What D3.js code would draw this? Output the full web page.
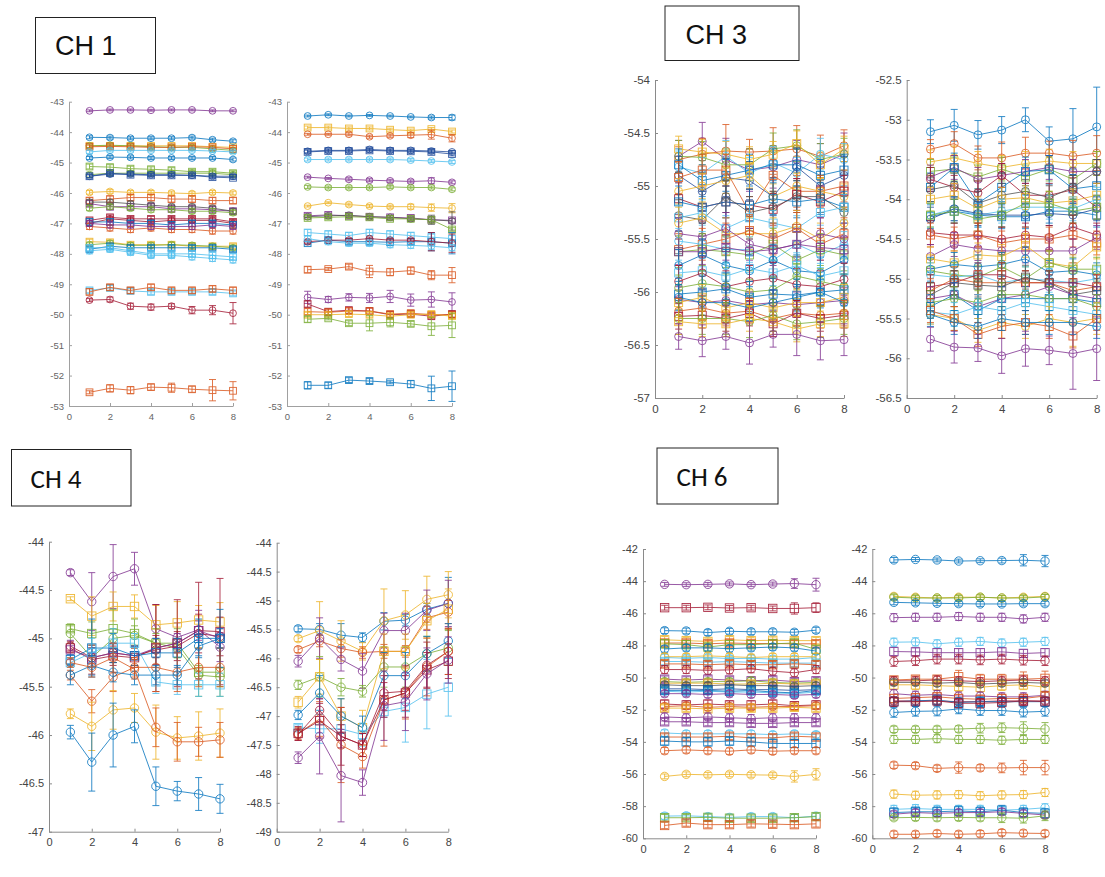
<!DOCTYPE html>
<html>
<head>
<meta charset="utf-8">
<script src="https://cdn.jsdelivr.net/npm/d3@7"></script>
<style>
  body { margin: 0; background: #fff; }
  svg { display: block; font-family: "Liberation Sans", Arial, sans-serif; }
</style>
</head>
<body>
<div id="chart"></div>
<script>
////////////////////////////  Data  ////////////////////////////
const xs = [1, 2, 3, 4, 5, 6, 7, 8];
const xTicks = [0, 2, 4, 6, 8];
const labels = ["CH 1", "CH 3", "CH 4", "CH 6"];

// y tick labels for each panel
const ch1Ticks = [-53, -52, -51, -50, -49, -48, -47, -46, -45, -44, -43];
const ch3aTicks = [-57, -56.5, -56, -55.5, -55, -54.5, -54];
const ch3bTicks = [-56.5, -56, -55.5, -55, -54.5, -54, -53.5, -53, -52.5];
const ch4aTicks = [-47, -46.5, -46, -45.5, -45, -44.5, -44];
const ch4bTicks = [-49, -48.5, -48, -47.5, -47, -46.5, -46, -45.5, -45, -44.5, -44];
const ch6Ticks = [-60, -58, -56, -54, -52, -50, -48, -46, -44, -42];

// CH 1, left
const ch1aValues = [
  [-43.3, -43.27, -43.27, -43.28, -43.27, -43.27, -43.3, -43.3],
  [-44.17, -44.18, -44.2, -44.2, -44.2, -44.18, -44.25, -44.3],
  [-44.45, -44.45, -44.45, -44.45, -44.45, -44.45, -44.48, -44.5],
  [-44.45, -44.43, -44.45, -44.48, -44.5, -44.5, -44.55, -44.6],
  [-44.48, -44.47, -44.48, -44.5, -44.5, -44.48, -44.5, -44.55],
  [-44.65, -44.6, -44.6, -44.6, -44.6, -44.6, -44.62, -44.65],
  [-44.85, -44.82, -44.83, -44.85, -44.85, -44.85, -44.85, -44.9],
  [-45.13, -45.15, -45.2, -45.22, -45.25, -45.3, -45.3, -45.35],
  [-45.4, -45.35, -45.35, -45.35, -45.35, -45.35, -45.35, -45.4],
  [-45.45, -45.38, -45.38, -45.4, -45.4, -45.42, -45.45, -45.45],
  [-45.45, -45.35, -45.4, -45.42, -45.42, -45.42, -45.48, -45.5],
  [-45.98, -45.95, -45.98, -45.98, -46.0, -46.02, -45.98, -46.0],
  [-46.25, -46.2, -46.15, -46.15, -46.2, -46.2, -46.25, -46.25],
  [-46.35, -46.45, -46.45, -46.45, -46.52, -46.52, -46.55, -46.6],
  [-46.3, -46.3, -46.35, -46.4, -46.45, -46.45, -46.5, -46.6],
  [-46.5, -46.45, -46.5, -46.55, -46.55, -46.6, -46.6, -46.65],
  [-46.9, -46.8, -46.85, -46.85, -46.85, -46.85, -46.85, -46.95],
  [-47.0, -46.85, -46.9, -46.95, -46.9, -46.9, -46.9, -47.0],
  [-46.95, -46.95, -47.0, -47.0, -47.05, -47.0, -47.0, -47.05],
  [-47.1, -47.15, -47.2, -47.15, -47.2, -47.2, -47.25, -47.25],
  [-47.0, -47.05, -47.05, -47.1, -47.1, -47.1, -47.05, -47.1],
  [-47.6, -47.62, -47.7, -47.7, -47.7, -47.75, -47.75, -47.75],
  [-47.7, -47.65, -47.72, -47.72, -47.7, -47.72, -47.75, -47.8],
  [-47.85, -47.75, -47.8, -47.8, -47.8, -47.8, -47.8, -47.85],
  [-47.8, -47.8, -47.9, -48.0, -48.0, -48.0, -48.05, -48.1],
  [-47.9, -47.85, -47.95, -48.05, -48.05, -48.1, -48.15, -48.2],
  [-49.2, -49.12, -49.22, -49.25, -49.25, -49.25, -49.25, -49.3],
  [-49.25, -49.1, -49.2, -49.1, -49.2, -49.2, -49.15, -49.2],
  [-49.52, -49.5, -49.72, -49.75, -49.72, -49.85, -49.85, -49.95],
  [-52.55, -52.42, -52.48, -52.38, -52.4, -52.45, -52.48, -52.5]
];
const ch1aErrors = [0.03, 0.05, 0.05, 0.06, 0.05, 0.05, 0.05, 0.08, 0.08, 0.05,
  0.05, 0.06, 0.1, 0.1, 0.08, 0.08, 0.08, 0.08, 0.1, 0.1,
  0.1, 0.08, 0.08, 0.08, 0.1, 0.1, 0.08, 0.1,
  [0.05, 0.08, 0.1, 0.1, 0.08, 0.12, 0.15, 0.35],
  [0.05, 0.12, 0.12, 0.1, 0.15, 0.1, 0.35, 0.3]];
const ch1aColors = "pbygo cbggn nyopk grrbo pygbc ccoro";
const ch1aMarkers = "oosos oosoo sosso ososo ososs ossos";

// CH 1, right
const ch1bValues = [
  [-43.47, -43.43, -43.47, -43.45, -43.47, -43.5, -43.52, -43.52],
  [-43.85, -43.85, -43.88, -43.88, -43.92, -43.95, -43.9, -43.98],
  [-44.07, -44.07, -44.07, -44.15, -44.12, -44.1, -44.08, -44.2],
  [-44.63, -44.6, -44.6, -44.57, -44.6, -44.6, -44.62, -44.65],
  [-44.65, -44.62, -44.62, -44.6, -44.62, -44.63, -44.65, -44.72],
  [-44.9, -44.9, -44.9, -44.9, -44.9, -44.92, -44.95, -44.98],
  [-45.48, -45.52, -45.55, -45.58, -45.6, -45.62, -45.6, -45.65],
  [-45.8, -45.82, -45.82, -45.82, -45.8, -45.82, -45.82, -45.88],
  [-46.43, -46.32, -46.38, -46.43, -46.45, -46.45, -46.48, -46.5],
  [-46.75, -46.72, -46.75, -46.78, -46.8, -46.82, -46.88, -46.9],
  [-46.78, -46.75, -46.73, -46.78, -46.8, -46.85, -46.88, -46.92],
  [-46.82, -46.8, -46.78, -46.8, -46.85, -46.85, -46.88, -47.2],
  [-47.3, -47.35, -47.4, -47.3, -47.35, -47.4, -47.45, -47.5],
  [-47.65, -47.55, -47.6, -47.6, -47.62, -47.6, -47.6, -47.65],
  [-47.6, -47.55, -47.55, -47.5, -47.55, -47.55, -47.6, -47.65],
  [-47.5, -47.6, -47.65, -47.65, -47.7, -47.72, -47.75, -47.8],
  [-48.52, -48.5, -48.42, -48.58, -48.6, -48.55, -48.7, -48.7],
  [-49.43, -49.5, -49.43, -49.45, -49.4, -49.52, -49.5, -49.58],
  [-49.65, -49.9, -49.85, -49.88, -50.0, -49.98, -50.05, -49.98],
  [-49.9, -49.92, -49.88, -49.88, -49.98, -49.95, -50.0, -50.0],
  [-50.0, -50.0, -49.98, -50.0, -50.05, -50.0, -49.98, -50.05],
  [-50.15, -50.12, -50.28, -50.28, -50.25, -50.3, -50.38, -50.35],
  [-52.32, -52.32, -52.15, -52.18, -52.22, -52.28, -52.42, -52.35]
];
const ch1bErrors = [
  [0.03, 0.03, 0.03, 0.03, 0.03, 0.03, 0.05, 0.08], 0.05,
  [0.03, 0.03, 0.05, 0.05, 0.05, 0.08, 0.15, 0.12], 0.05, 0.06, 0.05,
  [0.03, 0.03, 0.05, 0.05, 0.05, 0.05, 0.1, 0.05], 0.05,
  [0.03, 0.03, 0.05, 0.05, 0.05, 0.08, 0.12, 0.15], 0.06,
  [0.03, 0.05, 0.05, 0.05, 0.05, 0.05, 0.15, 0.3], 0.06, 0.1,
  [0.05, 0.05, 0.1, 0.1, 0.1, 0.1, 0.3, 0.35],
  [0.05, 0.05, 0.05, 0.05, 0.05, 0.05, 0.3, 0.3], 0.1,
  [0.1, 0.05, 0.08, 0.2, 0.12, 0.12, 0.15, 0.25],
  [0.2, 0.1, 0.12, 0.15, 0.2, 0.2, 0.25, 0.3], 0.1, 0.1, 0.08,
  [0.1, 0.05, 0.08, 0.25, 0.15, 0.08, 0.3, 0.4],
  [0.12, 0.1, 0.08, 0.08, 0.05, 0.12, 0.4, 0.5]];
const ch1bColors = "byonn cpgyp kgcbr coproy gb";
const ch1bMarkers = "osoos oooos ossso ososs sss";

// CH 3, left
const ch3aValues = [
  [-54.72, -54.58, -54.75, -54.85, -54.82, -54.75, -54.8, -54.7],
  [-54.75, -54.7, -54.67, -54.68, -54.67, -54.65, -54.72, -54.62],
  [-54.72, -54.73, -54.8, -54.8, -54.65, -54.62, -54.75, -54.7],
  [-54.65, -54.68, -54.7, -54.75, -54.7, -54.6, -54.8, -54.65],
  [-54.82, -54.88, -54.72, -54.88, -54.78, -54.88, -54.7, -54.75],
  [-54.8, -54.95, -54.9, -54.85, -54.8, -54.8, -54.9, -54.85],
  [-54.9, -55.05, -54.92, -54.95, -55.1, -54.82, -55.0, -54.9],
  [-54.92, -54.85, -54.85, -55.25, -54.9, -55.05, -55.05, -55.0],
  [-55.05, -55.0, -54.95, -54.9, -55.1, -55.0, -55.05, -55.1],
  [-55.12, -55.2, -55.15, -55.18, -55.22, -55.08, -55.15, -55.05],
  [-55.15, -55.2, -55.15, -55.18, -55.12, -55.15, -55.12, -55.2],
  [-55.28, -55.32, -55.1, -55.25, -55.2, -55.1, -55.1, -55.25],
  [-55.3, -55.25, -55.4, -55.3, -55.35, -55.4, -55.25, -55.2],
  [-55.35, -55.3, -55.45, -55.45, -55.45, -55.38, -55.5, -55.35],
  [-55.45, -55.48, -55.4, -55.55, -55.6, -55.55, -55.45, -55.5],
  [-55.6, -55.55, -55.5, -55.42, -55.5, -55.4, -55.55, -55.45],
  [-55.52, -55.55, -55.6, -55.6, -55.7, -55.55, -55.65, -55.55],
  [-55.62, -55.6, -55.62, -55.65, -55.55, -55.7, -55.6, -55.65],
  [-55.62, -55.62, -55.58, -55.62, -55.6, -55.55, -55.58, -55.6],
  [-55.75, -55.65, -55.75, -55.8, -55.7, -55.8, -55.82, -55.7],
  [-55.82, -55.8, -55.85, -55.78, -55.82, -55.75, -55.85, -55.8],
  [-55.9, -55.82, -55.95, -55.9, -55.87, -55.93, -55.95, -55.88],
  [-55.96, -55.92, -55.95, -56.0, -55.98, -55.85, -55.9, -55.95],
  [-56.02, -56.0, -55.97, -56.05, -56.02, -56.03, -56.0, -55.98],
  [-56.07, -56.1, -56.08, -56.12, -56.1, -56.12, -56.1, -56.08],
  [-56.1, -56.05, -56.15, -56.1, -56.15, -56.1, -56.1, -56.05],
  [-56.05, -56.1, -56.1, -56.15, -56.1, -56.05, -56.0, -56.1],
  [-56.18, -56.15, -56.2, -56.18, -56.25, -56.2, -56.22, -56.2],
  [-56.23, -56.22, -56.25, -56.2, -56.3, -56.2, -56.25, -56.22],
  [-56.25, -56.25, -56.25, -56.28, -56.22, -56.3, -56.28, -56.25],
  [-56.28, -56.3, -56.3, -56.25, -56.28, -56.35, -56.3, -56.3],
  [-56.42, -56.46, -56.42, -56.48, -56.4, -56.4, -56.46, -56.45]
];
const ch3aErrors = [
  [0.15, 0.18, 0.2, 0.2, 0.2, 0.18, 0.2, 0.2], [0.12, 0.15, 0.25, 0.12, 0.22, 0.22, 0.2, 0.15],
  0.15, 0.12, 0.15, 0.15, 0.18, 0.15, 0.12, 0.15, 0.15, 0.15, 0.12, 0.15, 0.15, 0.15,
  0.12, 0.15, 0.12, 0.15, 0.12, 0.15, 0.12, 0.15, 0.12, 0.12, 0.12, 0.12, 0.12, 0.15, 0.12,
  [0.12, 0.15, 0.12, 0.2, 0.12, 0.2, 0.18, 0.15]];
const ch3aColors = "pogyc bnoyr bkcyp ocgpb crgbp yborg yp";
const ch3aMarkers = "oooso sosos sosoo sosso sooso sooso so";

// CH 3, right
const ch3bValues = [
  [-53.15, -53.07, -53.19, -53.13, -53.0, -53.27, -53.24, -53.09],
  [-53.37, -53.3, -53.48, -53.48, -53.42, -53.42, -53.46, -53.42],
  [-53.53, -53.48, -53.55, -53.6, -53.55, -53.52, -53.55, -53.55],
  [-53.65, -53.62, -53.72, -53.62, -53.72, -53.62, -53.75, -53.55],
  [-53.72, -53.6, -53.75, -53.7, -53.65, -53.6, -53.65, -53.65],
  [-53.85, -53.6, -54.05, -53.85, -53.65, -53.63, -53.87, -53.83],
  [-53.75, -53.85, -53.92, -53.7, -53.95, -53.95, -53.88, -54.1],
  [-53.88, -53.82, -54.05, -53.95, -53.9, -53.98, -53.85, -53.65],
  [-54.0, -53.95, -54.12, -54.0, -53.98, -54.05, -54.02, -53.95],
  [-54.22, -54.15, -54.2, -54.22, -54.22, -54.15, -54.15, -54.2],
  [-54.2, -54.12, -54.2, -54.15, -54.1, -54.1, -54.12, -54.0],
  [-54.25, -54.12, -54.18, -54.2, -54.2, -54.18, -54.2, -54.12],
  [-54.2, -54.15, -54.25, -54.2, -54.05, -54.05, -54.15, -54.1],
  [-54.42, -54.45, -54.45, -54.5, -54.45, -54.48, -54.35, -54.45],
  [-54.45, -54.5, -54.45, -54.55, -54.5, -54.5, -54.45, -54.55],
  [-54.72, -54.57, -54.62, -54.65, -54.65, -54.65, -54.65, -54.48],
  [-54.75, -54.8, -54.7, -54.72, -54.58, -54.8, -54.85, -54.6],
  [-54.88, -54.82, -54.85, -54.82, -54.75, -54.92, -54.9, -54.95],
  [-54.9, -54.95, -54.98, -54.85, -55.0, -54.8, -54.88, -54.88],
  [-54.95, -54.98, -54.95, -55.05, -55.0, -55.02, -55.05, -55.0],
  [-55.1, -55.05, -54.95, -54.95, -55.05, -55.05, -55.05, -55.1],
  [-55.15, -55.0, -55.05, -55.05, -55.05, -55.05, -55.15, -55.1],
  [-55.2, -55.05, -55.08, -55.1, -54.98, -55.05, -55.2, -55.15],
  [-55.25, -55.2, -55.35, -55.25, -55.2, -55.1, -55.2, -55.25],
  [-55.35, -55.2, -55.4, -55.25, -55.25, -55.25, -55.25, -55.3],
  [-55.3, -55.25, -55.3, -55.2, -55.2, -55.25, -55.25, -55.35],
  [-55.42, -55.45, -55.35, -55.4, -55.3, -55.35, -55.4, -55.45],
  [-55.45, -55.5, -55.65, -55.55, -55.6, -55.5, -55.55, -55.5],
  [-55.4, -55.5, -55.7, -55.6, -55.55, -55.6, -55.72, -55.5],
  [-55.45, -55.55, -55.6, -55.5, -55.55, -55.55, -55.55, -55.6],
  [-55.76, -55.86, -55.87, -55.97, -55.88, -55.9, -55.94, -55.88]
];
const ch3bErrors = [
  [0.15, 0.2, 0.18, 0.17, 0.15, 0.18, 0.38, 0.5], [0.12, 0.15, 0.15, 0.2, 0.2, 0.15, 0.2, 0.22],
  0.15, 0.15, 0.15, 0.18, 0.15, 0.15, 0.15, 0.15, 0.15, 0.15, 0.15, 0.15, 0.15,
  0.15, 0.15, 0.15, 0.15, 0.15, 0.15, 0.15, 0.15, 0.15, 0.15, 0.15, 0.15,
  [0.12, 0.15, 0.15, 0.2, 0.15, 0.15, 0.3, 0.2], 0.15, 0.15,
  [0.15, 0.2, 0.17, 0.22, 0.22, 0.18, 0.45, 0.4]];
const ch3bColors = "boygp brkyb cngro pybgc rokpb gcyob p";
const ch3bMarkers = "oooso sooss oosos ososo sosos ososo o";

// CH 4, left
const ch4aValues = [
  [-44.32, -44.62, -44.36, -44.28, -44.9, -44.99, -44.91, -45.09],
  [-44.59, -44.77, -44.67, -44.67, -44.86, -44.84, -44.81, -44.83],
  [-44.9, -44.95, -44.9, -44.95, -45.05, -45.05, -45.35, -45.35],
  [-44.95, -45.2, -45.0, -44.97, -45.05, -45.1, -45.38, -45.4],
  [-45.1, -45.22, -45.18, -45.2, -45.1, -45.05, -44.92, -44.93],
  [-45.08, -45.2, -45.15, -45.18, -45.12, -45.08, -44.95, -44.98],
  [-45.12, -45.2, -45.15, -45.18, -45.1, -45.05, -44.92, -45.0],
  [-45.22, -45.1, -45.1, -45.18, -45.15, -45.15, -45.0, -45.0],
  [-45.25, -45.15, -45.05, -45.05, -45.45, -45.48, -45.48, -45.48],
  [-45.38, -45.65, -45.4, -45.3, -45.3, -45.35, -45.3, -45.3],
  [-45.38, -45.28, -45.35, -45.38, -45.38, -45.38, -45.08, -45.0],
  [-45.78, -45.91, -45.74, -45.72, -45.97, -46.03, -46.01, -45.98],
  [-45.25, -45.3, -45.2, -45.32, -45.92, -46.07, -46.07, -46.05],
  [-45.97, -46.28, -46.0, -45.91, -46.53, -46.58, -46.61, -46.66]
];
const ch4aErrors = [
  [0.03, 0.3, 0.33, 0.17, 0.25, 0.15, 0.2, 0.15],
  [0.02, 0.2, 0.15, 0.12, 0.2, 0.22, 0.15, 0.2],
  [0.03, 0.12, 0.2, 0.15, 0.15, 0.15, 0.25, 0.25], 0.1,
  [0.05, 0.15, 0.1, 0.1, 0.45, 0.45, 0.5, 0.55],
  [0.05, 0.1, 0.1, 0.1, 0.15, 0.15, 0.2, 0.2], 0.1,
  [0.05, 0.3, 0.15, 0.1, 0.15, 0.15, 0.2, 0.3],
  [0.05, 0.15, 0.15, 0.1, 0.12, 0.1, 0.12, 0.12],
  [0.05, 0.12, 0.15, 0.1, 0.25, 0.2, 0.2, 0.2], 0.1,
  [0.05, 0.25, 0.2, 0.15, 0.28, 0.22, 0.25, 0.25],
  [0.05, 0.1, 0.15, 0.1, 0.2, 0.2, 0.15, 0.18],
  [0.07, 0.3, 0.33, 0.17, 0.2, 0.1, 0.17, 0.15]];
const ch4aColors = "pyggr rpbco byob";
const ch4aMarkers = "ossos ossso oooo";

// CH 4, right
const ch4bValues = [
  [-45.49, -45.5, -45.6, -45.64, -45.36, -45.34, -45.15, -45.05],
  [-45.66, -45.52, -45.7, -45.88, -45.35, -45.25, -44.98, -44.9],
  [-45.85, -45.7, -45.83, -45.9, -45.88, -45.88, -45.3, -45.2],
  [-46.05, -45.65, -46.02, -46.22, -45.52, -45.52, -45.17, -45.05],
  [-46.46, -46.32, -46.5, -46.57, -46.15, -46.15, -45.92, -45.82],
  [-46.76, -46.32, -47.0, -47.2, -45.88, -45.88, -45.35, -45.15],
  [-46.98, -46.6, -47.0, -47.2, -46.3, -46.3, -45.92, -45.7],
  [-47.2, -47.22, -47.22, -47.32, -46.92, -46.85, -46.62, -46.5],
  [-47.32, -46.9, -47.35, -47.5, -46.6, -46.57, -46.12, -45.88],
  [-47.3, -47.05, -47.5, -47.7, -46.72, -46.6, -46.15, -45.88],
  [-47.3, -47.08, -47.35, -47.5, -46.72, -46.6, -46.2, -46.05],
  [-47.72, -47.35, -48.03, -48.15, -46.82, -46.75, -46.27, -46.03]
];
const ch4bErrors = [
  [0.05, 0.1, 0.2, 0.08, 0.15, 0.1, 0.1, 0.45],
  [0.05, 0.5, 0.35, 0.15, 0.55, 0.42, 0.4, 0.4],
  [0.05, 0.1, 0.15, 0.1, 0.12, 0.1, 0.2, 0.2],
  [0.1, 0.35, 0.2, 0.3, 0.3, 0.3, 0.35, 0.4],
  [0.08, 0.35, 0.15, 0.1, 0.35, 0.35, 0.3, 0.3],
  [0.1, 0.3, 0.3, 0.3, 0.3, 0.3, 0.3, 0.35],
  [0.08, 0.3, 0.3, 0.2, 0.4, 0.4, 0.3, 0.3],
  [0.05, 0.25, 0.2, 0.2, 0.1, 0.6, 0.6, 0.5],
  [0.1, 0.2, 0.5, 0.2, 0.3, 0.45, 0.4, 0.4],
  [0.1, 0.3, 0.65, 0.2, 0.8, 0.45, 0.5, 0.4],
  [0.12, 0.3, 0.2, 0.2, 0.3, 0.3, 0.3, 0.3],
  [0.1, 0.65, 0.8, 0.22, 0.6, 0.5, 0.45, 0.4]];
const ch4bColors = "byopg ybcro rp";
const ch4bMarkers = "ooooo sosoo so";

// CH 6, left
const ch6aValues = [
  [-44.2, -44.22, -44.2, -44.17, -44.22, -44.18, -44.15, -44.22],
  [-45.65, -45.65, -45.63, -45.67, -45.65, -45.7, -45.7, -45.65],
  [-47.08, -47.1, -47.2, -47.12, -47.15, -47.15, -47.18, -47.05],
  [-47.65, -47.7, -47.75, -47.65, -47.7, -47.68, -47.7, -47.7],
  [-47.85, -47.85, -47.9, -47.85, -47.88, -47.88, -47.9, -47.9],
  [-47.9, -47.95, -48.1, -47.95, -47.95, -47.9, -47.85, -48.25],
  [-48.22, -48.15, -48.15, -48.2, -48.15, -48.1, -48.15, -48.35],
  [-48.75, -48.8, -48.75, -48.82, -48.8, -48.85, -48.85, -48.75],
  [-48.7, -48.7, -48.65, -48.7, -48.75, -48.7, -48.7, -48.7],
  [-49.0, -49.0, -49.05, -49.0, -49.05, -49.1, -49.1, -49.1],
  [-49.15, -49.15, -49.2, -49.15, -49.2, -49.2, -49.15, -49.2],
  [-49.5, -49.5, -49.55, -49.52, -49.45, -49.6, -49.7, -49.5],
  [-50.1, -50.15, -50.1, -50.15, -50.2, -50.15, -50.25, -50.2],
  [-50.25, -50.3, -50.25, -50.25, -50.2, -50.3, -50.35, -50.3],
  [-50.35, -50.35, -50.35, -50.4, -50.4, -50.35, -50.4, -50.4],
  [-50.45, -50.5, -50.5, -50.45, -50.5, -50.5, -50.55, -50.5],
  [-50.7, -50.7, -50.75, -50.7, -50.75, -50.75, -50.8, -50.75],
  [-50.85, -50.9, -50.85, -50.9, -50.9, -50.95, -51.0, -50.9],
  [-50.8, -50.8, -50.8, -50.85, -50.8, -50.9, -50.95, -50.8],
  [-51.0, -51.0, -51.05, -51.0, -51.05, -51.05, -51.1, -51.05],
  [-51.65, -51.7, -51.65, -51.7, -51.7, -51.65, -51.75, -51.7],
  [-51.8, -51.75, -51.85, -51.8, -51.85, -51.8, -51.8, -51.75],
  [-51.9, -51.9, -51.95, -51.9, -51.9, -51.9, -51.85, -51.9],
  [-52.45, -52.5, -52.45, -52.5, -52.55, -52.5, -52.5, -52.5],
  [-52.75, -52.75, -52.8, -52.8, -52.85, -52.85, -52.8, -52.8],
  [-53.45, -53.5, -53.5, -53.5, -53.5, -53.55, -53.5, -53.55],
  [-53.7, -53.7, -53.7, -53.65, -53.75, -53.75, -53.65, -53.7],
  [-53.95, -54.0, -54.0, -53.95, -54.0, -54.1, -54.1, -54.1],
  [-54.55, -54.5, -54.55, -54.58, -54.5, -54.58, -54.55, -54.55],
  [-56.15, -56.02, -56.05, -56.02, -56.05, -56.07, -56.15, -56.02],
  [-58.62, -58.6, -58.65, -58.7, -58.65, -58.65, -58.72, -58.62],
  [-58.72, -58.72, -58.7, -58.75, -58.75, -58.75, -58.72, -58.65],
  [-59.2, -59.05, -59.15, -59.15, -59.1, -59.12, -59.15, -59.1]
];
const ch6aErrors = [
  [0.12, 0.12, 0.12, 0.12, 0.12, 0.12, 0.3, 0.4], [0.15, 0.15, 0.15, 0.15, 0.15, 0.15, 0.35, 0.3],
  0.18, 0.2, 0.2, 0.25, 0.2, 0.2, 0.2, 0.2, 0.2, 0.25, 0.2, 0.2, 0.2, 0.2, 0.2,
  0.2, 0.2, 0.2, 0.25, 0.2, 0.2, 0.25, 0.2, 0.2, 0.2, 0.25, 0.2,
  [0.15, 0.15, 0.15, 0.15, 0.15, 0.15, 0.35, 0.35], 0.2, 0.2, 0.2];
const ch6aColors = "prbyo gbcyc orpgy kncbp roypp coboy cgo";
const ch6aMarkers = "ososs sooos sosos ososo sosos ossoo oss";

// CH 6, right
const ch6bValues = [
  [-42.68, -42.65, -42.68, -42.75, -42.73, -42.72, -42.7, -42.75],
  [-44.95, -45.0, -45.05, -45.0, -45.0, -45.05, -45.0, -44.95],
  [-45.0, -45.05, -45.05, -45.05, -45.0, -45.05, -45.05, -44.98],
  [-45.32, -45.35, -45.38, -45.4, -45.42, -45.42, -45.4, -45.4],
  [-46.27, -46.25, -46.25, -46.2, -46.25, -46.25, -46.35, -46.25],
  [-47.8, -47.78, -47.9, -47.8, -47.75, -47.85, -47.8, -47.75],
  [-48.38, -48.4, -48.45, -48.45, -48.45, -48.4, -48.5, -48.45],
  [-49.0, -48.95, -48.85, -48.85, -48.9, -48.85, -48.92, -48.95],
  [-50.15, -50.1, -50.1, -49.95, -50.1, -50.1, -50.1, -50.05],
  [-50.2, -50.2, -50.15, -50.2, -50.25, -50.2, -50.15, -50.2],
  [-50.45, -50.45, -50.5, -50.55, -50.6, -50.5, -50.45, -50.6],
  [-50.3, -50.3, -50.35, -50.3, -50.4, -50.35, -50.3, -50.35],
  [-51.0, -51.1, -51.05, -51.15, -51.15, -51.2, -51.2, -51.1],
  [-51.3, -51.25, -51.2, -51.3, -51.35, -51.3, -51.3, -51.15],
  [-51.45, -51.45, -51.45, -51.5, -51.5, -51.45, -51.45, -51.45],
  [-51.5, -51.45, -51.4, -51.55, -51.5, -51.5, -51.5, -51.5],
  [-51.5, -51.5, -51.45, -51.6, -51.6, -51.55, -51.45, -51.5],
  [-52.17, -52.1, -52.08, -51.95, -52.05, -52.05, -52.15, -52.1],
  [-53.22, -53.22, -53.22, -53.2, -53.15, -53.12, -53.15, -53.2],
  [-53.85, -53.85, -53.8, -53.85, -53.85, -53.9, -53.85, -53.85],
  [-55.45, -55.48, -55.65, -55.6, -55.62, -55.62, -55.6, -55.6],
  [-57.25, -57.32, -57.3, -57.28, -57.35, -57.3, -57.28, -57.15],
  [-58.2, -58.15, -58.2, -58.2, -58.2, -58.25, -58.2, -58.1],
  [-58.4, -58.35, -58.35, -58.3, -58.35, -58.25, -58.4, -58.45],
  [-58.5, -58.4, -58.45, -58.4, -58.4, -58.35, -58.45, -58.55],
  [-58.72, -58.7, -58.72, -58.7, -58.72, -58.72, -58.75, -58.6],
  [-59.75, -59.75, -59.7, -59.75, -59.72, -59.65, -59.68, -59.7]
];
const ch6bErrors = [
  [0.15, 0.12, 0.12, 0.12, 0.12, 0.15, 0.35, 0.35], 0.15, 0.15, 0.15, 0.25, 0.25, 0.25, 0.3,
  [0.2, 0.2, 0.2, 0.4, 0.3, 0.3, 0.45, 0.45], 0.25, 0.3, 0.2, 0.25, 0.25, 0.2, 0.3, 0.3,
  0.3, [0.2, 0.2, 0.2, 0.2, 0.3, 0.3, 0.4, 0.4], 0.25, [0.2, 0.2, 0.2, 0.35, 0.2, 0.3, 0.45, 0.45],
  0.25, 0.25, 0.3, 0.2, [0.15, 0.2, 0.2, 0.2, 0.2, 0.3, 0.3, 0.3], 0.2];
const ch6bColors = "bygbp cpror ykpor brbgg oycbp go";
const ch6bMarkers = "ooooo ososo sooso ssooo oooso oo";

////////////////////////////  Init  ////////////////////////////
const width = 1105;
const height = 877;
const svg = d3.select("#chart").append("svg")
  .attr("width", width).attr("height", height);

const colorOrder = {
  b: "#0072BD", o: "#D95319", y: "#EDB120", p: "#7E2F8E", g: "#77AC30",
  c: "#4DBEEE", r: "#A2142F", n: "#1F4A9A", k: "#505050"
};
const cycle = "boypgcr";
const codes = (s) => s.replace(/\s/g, "");

// panel layout (pixels)
const panels = [
  { vals: ch1aValues, errs: ch1aErrors, cols: ch1aColors, marks: ch1aMarkers, domain: [-53, -43], ticks: ch1Ticks,
    xr: [69, 233], yr: [406, 101.7], fs: 9.5, r: 3.4, axis: "#a0a0a0", text: "#666" },
  { vals: ch1bValues, errs: ch1bErrors, cols: ch1bColors, marks: ch1bMarkers, domain: [-53, -43], ticks: ch1Ticks,
    xr: [287, 452], yr: [406, 101.7], fs: 9.5, r: 3.4, axis: "#a0a0a0", text: "#666" },
  { vals: ch3aValues, errs: ch3aErrors, cols: ch3aColors, marks: ch3aMarkers, domain: [-57, -54], ticks: ch3aTicks,
    xr: [655, 844], yr: [398, 80], fs: 11.5, r: 4, axis: "#8a8a8a", text: "#444" },
  { vals: ch3bValues, errs: ch3bErrors, cols: ch3bColors, marks: ch3bMarkers, domain: [-56.5, -52.5], ticks: ch3bTicks,
    xr: [906.7, 1096.7], yr: [398, 80], fs: 11.5, r: 4, axis: "#8a8a8a", text: "#444" },
  { vals: ch4aValues, errs: ch4aErrors, cols: ch4aColors, marks: ch4aMarkers, domain: [-47, -44], ticks: ch4aTicks,
    xr: [49, 220], yr: [831.7, 541.7], fs: 11, r: 4.2, axis: "#8a8a8a", text: "#444" },
  { vals: ch4bValues, errs: ch4bErrors, cols: ch4bColors, marks: ch4bMarkers, domain: [-49, -44], ticks: ch4bTicks,
    xr: [276.7, 448.3], yr: [831.7, 542.7], fs: 11, r: 4.2, axis: "#8a8a8a", text: "#444" },
  { vals: ch6aValues, errs: ch6aErrors, cols: ch6aColors, marks: ch6aMarkers, domain: [-60, -42], ticks: ch6Ticks,
    xr: [643, 816], yr: [838.3, 549], fs: 11, r: 4.2, axis: "#8a8a8a", text: "#444" },
  { vals: ch6bValues, errs: ch6bErrors, cols: ch6bColors, marks: ch6bMarkers, domain: [-60, -42], ticks: ch6Ticks,
    xr: [872.3, 1045], yr: [838.3, 549], fs: 11, r: 4.2, axis: "#8a8a8a", text: "#444" }
];

// label boxes
const labelBoxes = [
  { x: 35, y: 17, w: 120, h: 56, tx: 55, ty: 55, font: "'Liberation Sans', Arial, sans-serif", fs: 27 },
  { x: 664.5, y: 5.5, w: 134, h: 54.5, tx: 685.5, ty: 44, font: "'Liberation Sans', Arial, sans-serif", fs: 27 },
  { x: 11, y: 449, w: 119.5, h: 56.5, tx: 30.5, ty: 487.5, font: "Carlito, Lato, 'Open Sans', sans-serif", fs: 27 },
  { x: 656.5, y: 447.5, w: 121, h: 56, tx: 676.5, ty: 486, font: "Carlito, Lato, 'Open Sans', sans-serif", fs: 27 }
];

labelBoxes.forEach((b, i) => {
  svg.append("rect")
    .attr("x", b.x + 0.5).attr("y", b.y + 0.5)
    .attr("width", b.w).attr("height", b.h)
    .attr("fill", "#fff").attr("stroke", "#222").attr("stroke-width", 1);
  svg.append("text")
    .attr("x", b.tx).attr("y", b.ty)
    .style("font-family", b.font).style("font-size", b.fs + "px")
    .attr("fill", "#111")
    .text(labels[i]);
});

////////////////////////////  Panels  ////////////////////////////
function drawPanel(p) {
  const xScale = d3.scaleLinear().domain([0, 8]).range(p.xr);
  const yScale = d3.scaleLinear().domain(p.domain).range(p.yr);
  const g = svg.append("g");

  const xAxis = d3.axisBottom(xScale).tickValues(xTicks).tickSize(-3).tickSizeOuter(0).tickPadding(7)
    .tickFormat((d) => String(d));
  const yAxis = d3.axisLeft(yScale).tickValues(p.ticks).tickSize(-3).tickSizeOuter(0).tickPadding(5)
    .tickFormat((d) => String(d));

  const gx = g.append("g").attr("transform", `translate(0, ${p.yr[0]})`).call(xAxis);
  const gy = g.append("g").attr("transform", `translate(${p.xr[0]}, 0)`).call(yAxis);
  [gx, gy].forEach((a) => {
    a.select(".domain").attr("stroke", p.axis);
    a.selectAll(".tick line").attr("stroke", p.axis);
    a.selectAll(".tick text").attr("fill", p.text)
      .style("font-size", p.fs + "px")
      .style("font-family", "'Liberation Sans', Arial, sans-serif");
  });

  const line = d3.line()
    .x((d) => xScale(d.x))
    .y((d) => yScale(d.y));

  const cols = codes(p.cols);
  const marks = codes(p.marks);
  const cap = 3.5;

  p.vals.forEach((v, i) => {
    const err = p.errs[i] === undefined ? 0.1 : p.errs[i];
    const color = colorOrder[cols[i]] || colorOrder[cycle[i % cycle.length]];
    const pts = v.map((d, j) => ({ x: xs[j], y: d, e: Array.isArray(err) ? err[j] : err }));

    const sg = g.append("g")
      .attr("stroke", color).attr("fill", "none")
      .attr("stroke-width", 0.9).attr("opacity", 0.88);

    sg.append("path").datum(pts).attr("d", line);

    // error bars
    sg.selectAll(".eb").data(pts).join("path")
      .attr("class", "eb")
      .attr("d", (d) => {
        const cx = xScale(d.x);
        const y1 = yScale(d.y - d.e);
        const y2 = yScale(d.y + d.e);
        return `M${cx},${y1}V${y2}M${cx - cap},${y1}H${cx + cap}M${cx - cap},${y2}H${cx + cap}`;
      });

    // markers
    if (marks[i] === "s") {
      sg.selectAll(".mk").data(pts).join("rect")
        .attr("class", "mk")
        .attr("x", (d) => xScale(d.x) - p.r)
        .attr("y", (d) => yScale(d.y) - p.r)
        .attr("width", p.r * 2).attr("height", p.r * 2);
    } else {
      sg.selectAll(".mk").data(pts).join("circle")
        .attr("class", "mk")
        .attr("cx", (d) => xScale(d.x))
        .attr("cy", (d) => yScale(d.y))
        .attr("r", p.r);
    }
  });
}

panels.forEach(drawPanel);
</script>
</body>
</html>
